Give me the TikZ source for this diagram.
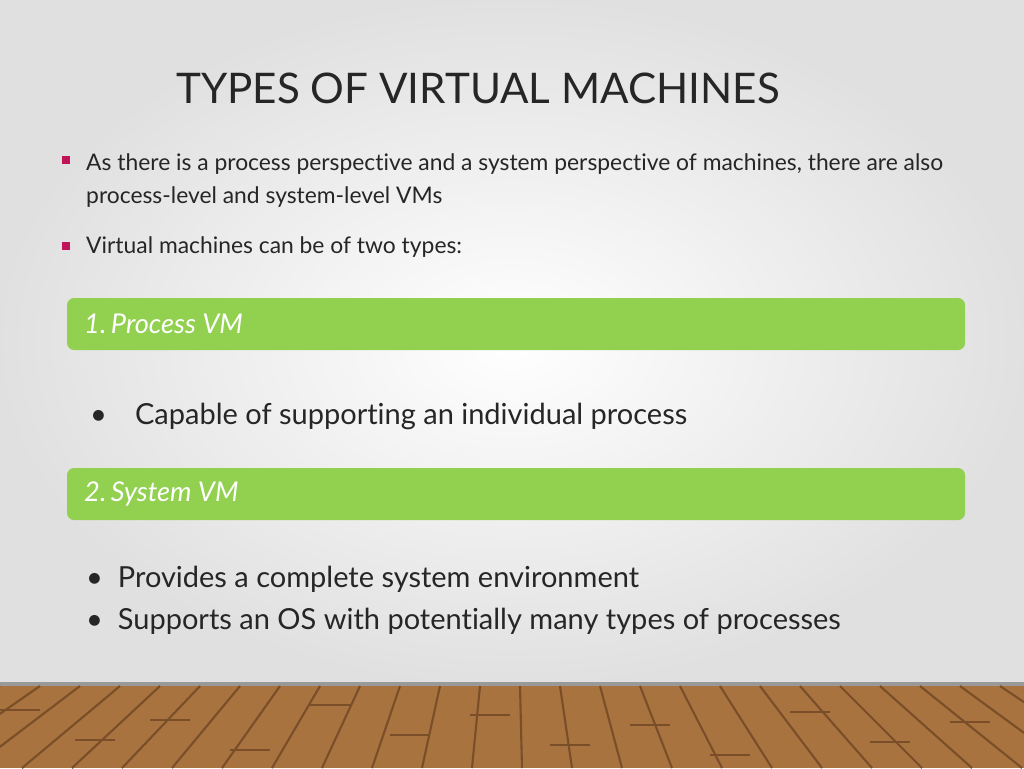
\documentclass[tikz,border=0pt]{standalone}
\usepackage{fontspec}
\setmainfont{Lato}[Ligatures={NoCommon}]
\usetikzlibrary{positioning,shadings}
\definecolor{barGreen}{HTML}{92D050}
\definecolor{bulletPink}{HTML}{C0145A}
\definecolor{woodA}{HTML}{A8733F}
\definecolor{woodB}{HTML}{7A4E28}
\definecolor{textGray}{HTML}{262626}
\begin{document}
\begin{tikzpicture}[x=0.02cm,y=-0.02cm]
  \tikzstyle{bar}=[fill=barGreen,rounded corners=4pt]
  \tikzstyle{bartext}=[anchor=west,text=white,font=\fontsize{15.5}{20}\selectfont\itshape]
  \tikzstyle{small}=[anchor=west,text=textGray,font=\fontsize{13}{19}\selectfont,align=left]
  \tikzstyle{big}=[anchor=west,text=textGray,font=\fontsize{16.5}{24}\selectfont,align=left]
  \tikzstyle{sq}=[fill=bulletPink,minimum size=4pt,inner sep=0pt]
  \useasboundingbox (0,0) rectangle (1024,768);
  % background
  \shade[inner color=white,outer color=black!12] (0,0) rectangle (1024,684);
  % floor
  \fill[woodA] (0,684) rectangle (1024,768);
  \fill[black!40] (0,682) rectangle (1024,686);
  \foreach \x in {0,40,...,1040}
    \draw[woodB,line width=1.2pt] (\x,686) -- ({\x+(\x-512)*0.25},768);
  \foreach \x/\y in {20/710,95/740,170/720,250/750,330/705,410/735,490/715,570/745,650/725,730/755,810/712,890/742,970/722}
    \draw[woodB,line width=0.8pt] (\x-20,\y) -- (\x+20,\y);
  % title
  \node[anchor=west,text=textGray,font=\fontsize{24}{28}\selectfont] (title) at (170,88) {TYPES OF VIRTUAL MACHINES};
  % bullets
  \node[sq] (b1) at (66,160) {};
  \node[small,anchor=north west] (t1) at (80,147) {As there is a process perspective and a system perspective of machines, there are also\\process-level and system-level VMs};
  \node[sq] (b2) at (66,246) {};
  \node[small] (t2) at (80,247) {Virtual machines can be of two types:};
  % process VM
  \fill[bar] (67,298) rectangle (965,350);
  \node[bartext] (p) at (78,324) {1.\,Process VM};
  \node[big] (pc) at (84,416) {\textbullet\hspace{16pt}Capable of supporting an individual process};
  % system VM
  \fill[bar] (67,468) rectangle (965,520);
  \node[bartext] (s) at (78,494) {2.\,System VM};
  \node[big,anchor=north west] (sc) at (80,560) {\textbullet\ \ Provides a complete system environment\\\textbullet\ \ Supports an OS with potentially many types of processes};
\end{tikzpicture}
\end{document}
